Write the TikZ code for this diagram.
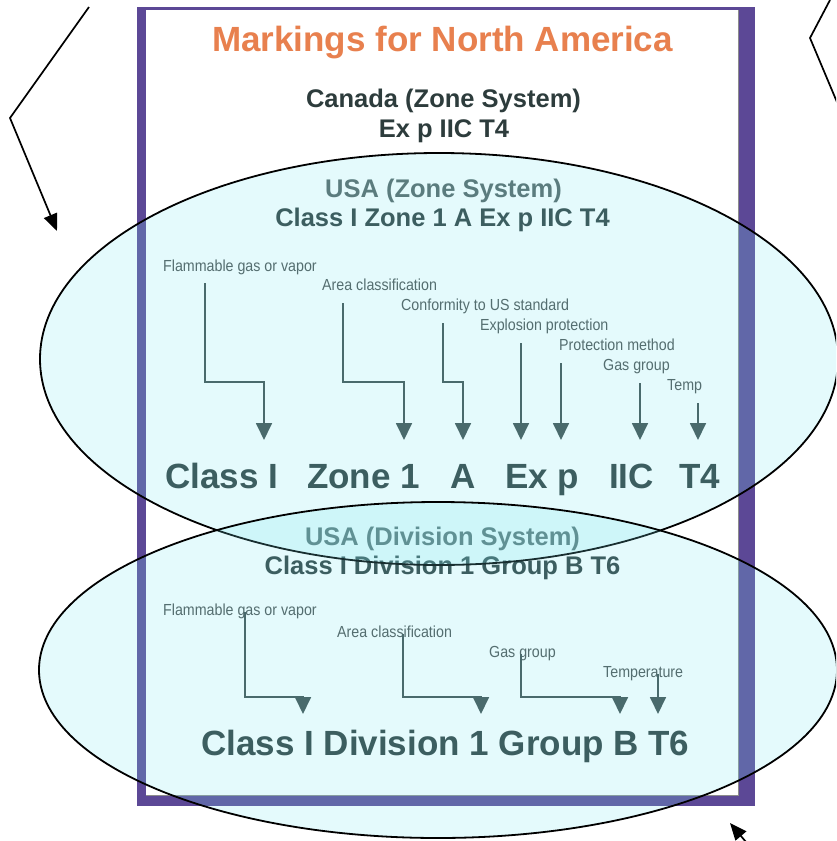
\documentclass[tikz,border=0pt]{standalone}
\usepackage{fontspec}
\setmainfont{Liberation Sans}
\newfontfamily\labelfont[FakeStretch=0.89]{Liberation Sans}
\usetikzlibrary{arrows.meta}

\definecolor{framepurple}{RGB}{92,72,150}
\definecolor{titleorange}{RGB}{232,128,78}
\definecolor{darkslate}{RGB}{45,60,60}
\definecolor{headgrey}{RGB}{84,98,98}
\definecolor{labelgrey}{RGB}{76,80,80}
\definecolor{arrowgrey}{RGB}{62,76,76}
\definecolor{lenscyan}{RGB}{120,230,240}

\begin{document}
\begin{tikzpicture}[x=1pt,y=-1pt,
  titletext/.style={font=\fontsize{35}{40}\selectfont\bfseries, text=titleorange, inner sep=0pt, anchor=base},
  hdr/.style={font=\fontsize{25.5}{30}\selectfont\bfseries, inner sep=0pt, anchor=base},
  lbl/.style={font=\labelfont\fontsize{16}{18}\selectfont, text=labelgrey, inner sep=0pt, anchor=base west},
  bigmark/.style={font=\fontsize{35}{40}\selectfont\bfseries, text=darkslate, inner sep=0pt, anchor=base west},
  conn/.style={draw=arrowgrey, line width=1.8pt, -{Triangle[width=16pt,length=17pt]}},
  lens/.style={draw=black, line width=1.8pt, fill=lenscyan, fill opacity=0.2},
  pointer/.style={draw=black, line width=1.7pt, -{Triangle[width=14pt,length=17pt]}}
]
\useasboundingbox (0,0) rectangle (836,841);
\clip (0,0) rectangle (836,841);

% slide frame
\fill[framepurple] (137,7) rectangle (755,806);
\fill[white] (146,10) rectangle (738,795);
\draw[black!45, line width=0.8pt] (146,795) -- (738,795) -- (738,10);

% headings
\node[titletext] (ttl) at (442.5,51) {Markings for North America};
\node[hdr, text=darkslate] (can) at (443.5,107) {Canada (Zone System)};
\node[hdr, text=darkslate] (canm) at (444,137) {Ex p IIC T4};
\node[hdr, text=headgrey] (usaz) at (443.5,197) {USA (Zone System)};
\node[hdr, text=darkslate] (usazm) at (442.5,226) {Class I Zone 1 A Ex p IIC T4};

% zone system labels
\node[lbl] (lz1) at (163,271) {Flammable gas or vapor};
\node[lbl] (lz2) at (322,290) {Area classification};
\node[lbl] (lz3) at (401,310) {Conformity to US standard};
\node[lbl] (lz4) at (480,330) {Explosion protection};
\node[lbl] (lz5) at (559,350) {Protection method};
\node[lbl] (lz6) at (603,370) {Gas group};
\node[lbl] (lz7) at (667,390) {Temp};

% zone system marking
\node[bigmark] (zClass) at (165,488) {Class I};
\node[bigmark] (zZone) at (307,488) {Zone 1};
\node[bigmark] (zA) at (450,488) {A};
\node[bigmark] (zEx) at (505,488) {Ex p};
\node[bigmark] (zGas) at (609,488) {IIC};
\node[bigmark] (zT) at (679,488) {T4};

% zone system connectors
\coordinate (zs1) at (205,283); \coordinate (zk1) at (264,382); \coordinate (zt1) at (264,440);
\coordinate (zs2) at (343,303); \coordinate (zk2) at (404,382); \coordinate (zt2) at (404,440);
\coordinate (zs3) at (443,323); \coordinate (zk3) at (463,382); \coordinate (zt3) at (463,440);
\coordinate (zs4) at (521,343); \coordinate (zt4) at (521,440);
\coordinate (zs5) at (561,363); \coordinate (zt5) at (561,440);
\coordinate (zs6) at (640,383); \coordinate (zt6) at (640,440);
\coordinate (zs7) at (698,403); \coordinate (zt7) at (698,440);
\draw[conn] (zs1) |- (zk1) -- (zt1);
\draw[conn] (zs2) |- (zk2) -- (zt2);
\draw[conn] (zs3) |- (zk3) -- (zt3);
\draw[conn] (zs4) -- (zt4);
\draw[conn] (zs5) -- (zt5);
\draw[conn] (zs6) -- (zt6);
\draw[conn] (zs7) -- (zt7);

% division system
\node[hdr, text=headgrey] (usad) at (442.5,545) {USA (Division System)};
\node[hdr, text=darkslate] (usadm) at (442.5,574) {Class I Division 1 Group B T6};

\node[lbl] (ld1) at (163,615) {Flammable gas or vapor};
\node[lbl] (ld2) at (337,637) {Area classification};
\node[lbl] (ld3) at (489,657) {Gas group};
\node[lbl] (ld4) at (603,677) {Temperature};

\node[bigmark] (dmark) at (201,755) {Class I Division 1 Group B T6};

\coordinate (ds1) at (245,612); \coordinate (dk1) at (303,697); \coordinate (dt1) at (303,714);
\coordinate (ds2) at (403,634); \coordinate (dk2) at (481,697); \coordinate (dt2) at (481,714);
\coordinate (ds3) at (521,654); \coordinate (dk3) at (620,697); \coordinate (dt3) at (620,714);
\coordinate (ds4) at (658,674); \coordinate (dt4) at (658,714);
\draw[conn] (ds1) |- (dk1) -- (dt1);
\draw[conn] (ds2) |- (dk2) -- (dt2);
\draw[conn] (ds3) |- (dk3) -- (dt3);
\draw[conn] (ds4) -- (dt4);

% highlight ellipses
\draw[lens] (439,359) ellipse [x radius=399, y radius=206];
\draw[lens] (438,670) ellipse [x radius=399, y radius=168];

% outer pointers
\coordinate (pa0) at (89,7); \coordinate (pa1) at (10,118); \coordinate (pa2) at (57,231);
\draw[pointer] (pa0) -- (pa1) -- (pa2);
\coordinate (pb0) at (830,0); \coordinate (pb1) at (810,38); \coordinate (pb2) at (850,133);
\draw[line width=1.7pt] (pb0) -- (pb1) -- (pb2);
\coordinate (pc0) at (746,842); \coordinate (pc1) at (730,823);
\draw[pointer] (pc0) -- (pc1);
\end{tikzpicture}
\end{document}
